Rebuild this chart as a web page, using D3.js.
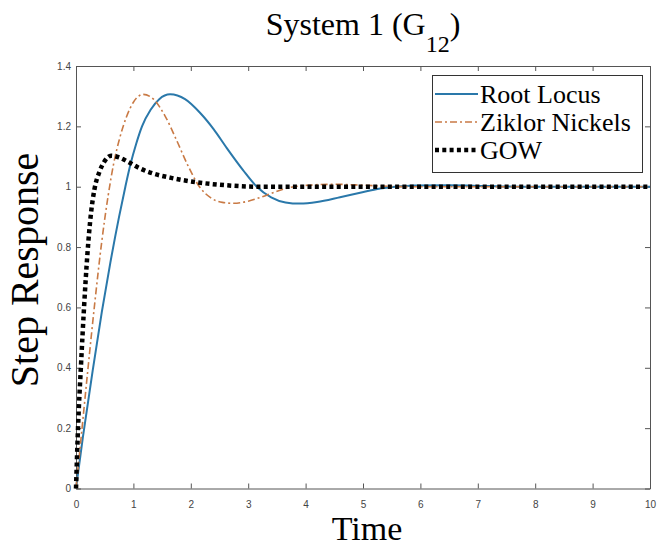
<!DOCTYPE html>
<html>
<head>
<meta charset="utf-8">
<script src="https://cdn.jsdelivr.net/npm/d3@7"></script>
<style>
  body { margin: 0; background: #fff; }
  svg { display: block; }
</style>
</head>
<body>
<script>

    // values
    const tRootLocus = [0, 0.12, 0.29, 0.45, 0.6, 0.75, 0.86, 0.95, 1.045, 1.15, 1.3, 1.45, 1.64, 1.9, 2.16, 2.4, 2.62, 2.91, 3.15, 3.4, 3.65, 3.9, 4.2, 4.6, 4.95, 5.3, 5.9, 6.5, 7.2, 8, 9, 10];
    const yRootLocus = [0, 0.17, 0.39, 0.585, 0.75, 0.9, 1.0, 1.075, 1.14, 1.2, 1.255, 1.29, 1.306, 1.29, 1.245, 1.19, 1.13, 1.055, 1.0, 0.965, 0.948, 0.944, 0.949, 0.965, 0.98, 0.994, 1.004, 1.005, 1.002, 1.0, 1.0, 1.0];

    const tZiklor = [0, 0.1, 0.21, 0.33, 0.45, 0.56, 0.66, 0.76, 0.88, 1.0, 1.17, 1.35, 1.55, 1.75, 1.95, 2.15, 2.35, 2.55, 2.75, 3.0, 3.32, 3.67, 4.13, 4.5, 5, 5.5, 6, 7, 10];
    const yZiklor = [0, 0.19, 0.40, 0.62, 0.82, 0.97, 1.08, 1.16, 1.232, 1.28, 1.306, 1.29, 1.235, 1.155, 1.07, 1.0, 0.963, 0.948, 0.945, 0.952, 0.972, 0.995, 1.006, 1.008, 1.005, 1.001, 1.0, 1.0, 1.0];

    const tGOW = [0, 0.035, 0.09, 0.14, 0.2, 0.26, 0.32, 0.41, 0.5, 0.61, 0.75, 0.93, 1.1, 1.29, 1.64, 2.13, 2.6, 3.2, 10];
    const yGOW = [0, 0.2, 0.42, 0.6, 0.78, 0.91, 0.99, 1.05, 1.085, 1.103, 1.097, 1.08, 1.062, 1.047, 1.03, 1.014, 1.005, 1.0, 1.0];

    const seriesNames = ['Root Locus', 'Ziklor Nickels', 'GOW'];
    const xTicks = [0, 1, 2, 3, 4, 5, 6, 7, 8, 9, 10];
    const yTicks = [0, 0.2, 0.4, 0.6, 0.8, 1, 1.2, 1.4];

    const width = 657, height = 548;
    const margin = {top: 66, right: 7, bottom: 60, left: 76};

    const svg = d3.select('body').append('svg')
        .attr('width', width)
        .attr('height', height);

    const x = d3.scaleLinear().domain([0, 10]).range([margin.left, width - margin.right]);
    const y = d3.scaleLinear().domain([0, 1.4]).range([height - margin.bottom + 0.5, margin.top]);

    const styles = [
        {color: '#2a78aa', width: 2, dash: null},
        {color: '#c97a45', width: 1.6, dash: '7,3,2,3'},
        {color: '#000', width: 4.5, dash: '4,3.3'}
    ];

    const series = [
        tRootLocus.map((t, i) => [t, yRootLocus[i]]),
        tZiklor.map((t, i) => [t, yZiklor[i]]),
        tGOW.map((t, i) => [t, yGOW[i]])
    ];

    // axes, MATLAB style box with ticks inside
    const fmt = d3.format('~g');
    const axisColor = '#555';

    svg.append('g')
        .attr('transform', `translate(0,${y(0)})`)
        .call(d3.axisBottom(x).tickValues(xTicks).tickFormat(fmt).tickSizeInner(-5).tickSizeOuter(0).tickPadding(12));
    svg.append('g')
        .attr('transform', `translate(0,${y(1.4)})`)
        .call(d3.axisTop(x).tickValues(xTicks).tickFormat('').tickSizeInner(-5).tickSizeOuter(0));
    svg.append('g')
        .attr('transform', `translate(${x(0)},0)`)
        .call(d3.axisLeft(y).tickValues(yTicks).tickFormat(fmt).tickSizeInner(-5).tickSizeOuter(0).tickPadding(5));
    svg.append('g')
        .attr('transform', `translate(${x(10)},0)`)
        .call(d3.axisRight(y).tickValues(yTicks).tickFormat('').tickSizeInner(-5).tickSizeOuter(0));

    svg.selectAll('.domain, .tick line').attr('stroke', axisColor);
    svg.selectAll('.tick text')
        .attr('fill', '#444')
        .style('font-family', '"Liberation Sans", Arial, sans-serif')
        .style('font-size', '10px');

    // lines
    const line = d3.line()
        .x(d => x(d[0]))
        .y(d => y(d[1]))
        .curve(d3.curveMonotoneX);

    svg.append('g').selectAll('path.series')
        .data(series)
        .join('path')
        .attr('class', 'series')
        .attr('fill', 'none')
        .attr('d', line)
        .attr('stroke', (d, i) => styles[i].color)
        .attr('stroke-width', (d, i) => styles[i].width)
        .attr('stroke-dasharray', (d, i) => styles[i].dash);

    // legend
    const legend = svg.append('g');
    legend.append('rect')
        .attr('x', 432.5).attr('y', 75.5)
        .attr('width', 210).attr('height', 97)
        .attr('fill', '#fff')
        .attr('stroke', '#333');

    const item = legend.selectAll('g.item')
        .data(seriesNames)
        .join('g')
        .attr('class', 'item')
        .attr('transform', (d, i) => `translate(0,${94 + i * 28})`);

    item.append('line')
        .attr('x1', 435).attr('x2', 478)
        .attr('stroke', (d, i) => styles[i].color)
        .attr('stroke-width', (d, i) => styles[i].width)
        .attr('stroke-dasharray', (d, i) => styles[i].dash);

    item.append('text')
        .attr('x', 480).attr('y', 9)
        .style('font-family', '"Liberation Serif", "Times New Roman", serif')
        .style('font-size', '26px')
        .text(d => d);

    // titles
    const title = svg.append('text')
        .attr('x', 363).attr('y', 35)
        .attr('text-anchor', 'middle')
        .style('font-family', '"Liberation Serif", "Times New Roman", serif')
        .style('font-size', '32px');
    title.append('tspan').text('System 1 (G');
    title.append('tspan').attr('dy', 17).style('font-size', '24px').text('12');
    title.append('tspan').attr('dy', -17).text(')');

    svg.append('text')
        .attr('x', 367).attr('y', 540)
        .attr('text-anchor', 'middle')
        .style('font-family', '"Liberation Serif", "Times New Roman", serif')
        .style('font-size', '34px')
        .text('Time');

    svg.append('text')
        .attr('transform', 'translate(38,270) rotate(-90)')
        .attr('text-anchor', 'middle')
        .style('font-family', '"Liberation Serif", "Times New Roman", serif')
        .style('font-size', '40px')
        .text('Step Response');
</script>
</body>
</html>
